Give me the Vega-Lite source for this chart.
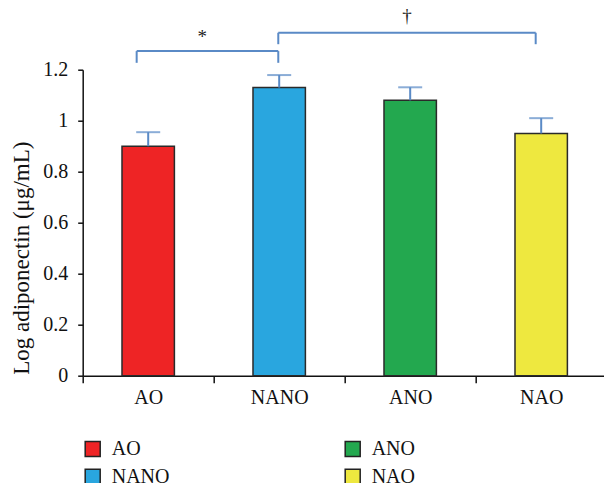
{
  "$schema": "https://vega.github.io/schema/vega-lite/v6.json",
  "width": 524,
  "height": 306,
  "autosize": {"type": "none"},
  "padding": {"left": 82.7, "top": 69.7, "right": 0, "bottom": 107.3},
  "config": {"view": {"stroke": null}, "font": "Liberation Serif"},
  "datasets": {
    "bars": [
      {"group": "AO", "mean": 0.9, "upper": 0.955},
      {"group": "NANO", "mean": 1.13, "upper": 1.179},
      {"group": "ANO", "mean": 1.08, "upper": 1.131},
      {"group": "NAO", "mean": 0.95, "upper": 1.01}
    ],
    "brackets": [
      {"x": 0.412, "x2": 0.412, "y": 1.227, "y2": 1.273},
      {"x": 0.412, "x2": 1.493, "y": 1.273, "y2": 1.273},
      {"x": 1.493, "x2": 1.493, "y": 1.273, "y2": 1.227},
      {"x": 1.493, "x2": 1.493, "y": 1.3, "y2": 1.345},
      {"x": 1.493, "x2": 3.458, "y": 1.345, "y2": 1.345},
      {"x": 3.458, "x2": 3.458, "y": 1.345, "y2": 1.3}
    ],
    "signs": [
      {"x": 0.913, "y": 1.306, "label": "*"},
      {"x": 2.476, "y": 1.388, "label": "†"}
    ]
  },
  "layer": [
    {
      "data": {"name": "bars"},
      "layer": [
        {
          "mark": {"type": "bar", "width": {"band": 0.4}, "stroke": "#2a2a2a", "strokeWidth": 1.5},
          "encoding": {
            "x": {"field": "group", "type": "nominal", "sort": ["AO", "NANO", "ANO", "NAO"],
              "scale": {"paddingInner": 0, "paddingOuter": 0},
              "axis": {"title": null, "labelAngle": 0, "tickBand": "extent", "tickSize": 7, "labelPadding": 5,
                "labelFontSize": 20, "labelColor": "#111", "domainColor": "#111", "tickColor": "#111", "domainWidth": 1.5, "tickWidth": 1.5}},
            "y": {"field": "mean", "type": "quantitative", "scale": {"domain": [0, 1.2], "nice": false},
              "title": "Log adiponectin (μg/mL)",
              "axis": {"title": "Log adiponectin (μg/mL)", "values": [0, 0.2, 0.4, 0.6, 0.8, 1, 1.2], "format": "~g",
                "grid": false, "labelFontSize": 20, "labelColor": "#111", "labelPadding": 10, "tickSize": 5,
                "tickColor": "#111", "domainColor": "#111", "domainWidth": 1.5, "tickWidth": 1.5,
                "titleFontSize": 23, "titleFontWeight": "normal", "titleColor": "#111",
                "titleX": -61, "titleY": 188, "titleAngle": -90, "titleBaseline": "middle", "titleAlign": "center"}},
            "color": {"field": "group", "type": "nominal",
              "scale": {"domain": ["AO", "NANO", "ANO", "NAO"], "range": ["#ee2425", "#29a6df", "#23a84f", "#eee83f"]},
              "legend": {"orient": "none", "legendX": 0, "legendY": 369, "columns": 2, "title": null,
                "symbolType": "square", "symbolSize": 225, "symbolStrokeColor": "#222", "symbolStrokeWidth": 1.5,
                "labelFontSize": 20, "labelColor": "#111", "labelOffset": 9, "rowPadding": 6, "columnPadding": 172, "padding": 0}}
          }
        },
        {
          "mark": {"type": "rule", "color": "#5a8ac6", "strokeWidth": 2},
          "encoding": {
            "x": {"field": "group", "type": "nominal", "sort": ["AO", "NANO", "ANO", "NAO"]},
            "y": {"field": "mean", "type": "quantitative", "title": "Log adiponectin (μg/mL)"},
            "y2": {"field": "upper"}
          }
        },
        {
          "mark": {"type": "tick", "color": "#5a8ac6", "size": 24, "thickness": 2},
          "encoding": {
            "x": {"field": "group", "type": "nominal", "sort": ["AO", "NANO", "ANO", "NAO"]},
            "y": {"field": "upper", "type": "quantitative", "title": "Log adiponectin (μg/mL)"}
          }
        }
      ]
    },
    {
      "layer": [
        {
          "data": {"name": "brackets"},
          "mark": {"type": "rule", "color": "#5a8ac6", "strokeWidth": 2},
          "encoding": {
            "x": {"field": "x", "type": "quantitative", "scale": {"domain": [0, 4], "nice": false}, "axis": null},
            "x2": {"field": "x2"},
            "y": {"field": "y", "type": "quantitative", "title": "Log adiponectin (μg/mL)"},
            "y2": {"field": "y2"}
          }
        },
        {
          "data": {"name": "signs"},
          "mark": {"type": "text", "fontSize": 19, "color": "#222", "baseline": "alphabetic", "align": "center"},
          "encoding": {
            "x": {"field": "x", "type": "quantitative", "axis": null},
            "y": {"field": "y", "type": "quantitative", "title": "Log adiponectin (μg/mL)"},
            "text": {"field": "label"}
          }
        }
      ]
    }
  ],
  "resolve": {"scale": {"x": "independent"}}
}
